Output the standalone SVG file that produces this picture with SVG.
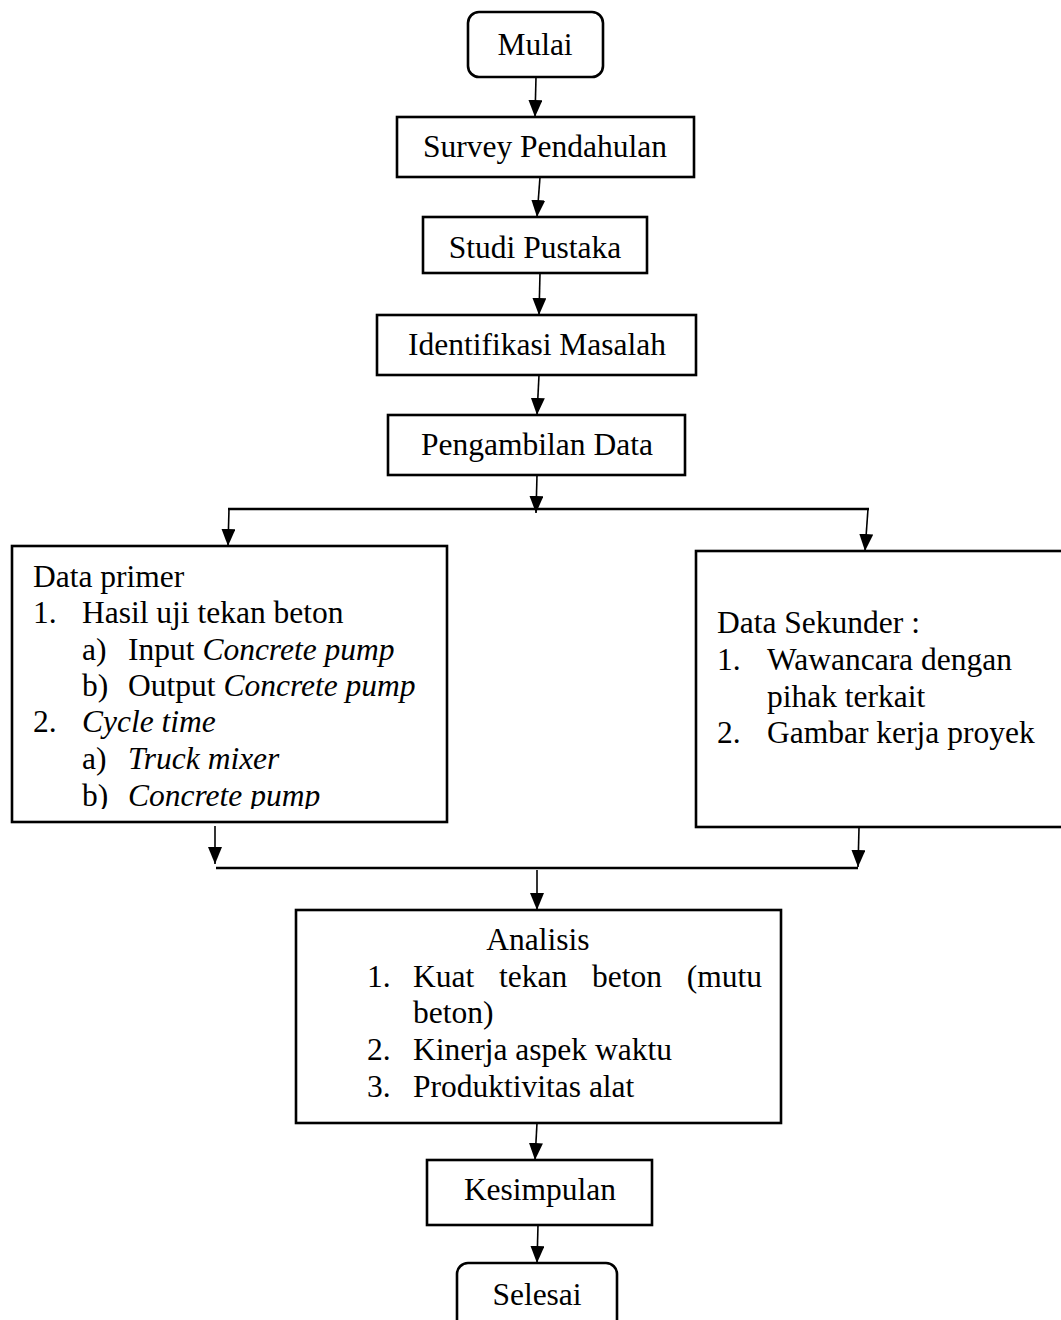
<svg xmlns="http://www.w3.org/2000/svg" width="1061" height="1320" viewBox="0 0 1061 1320">
<style>
.box{fill:#fff;stroke:#000;stroke-width:2.6}
.t{font-family:"Liberation Serif","Times New Roman",serif;font-size:31.5px;fill:#000}
.c{text-anchor:middle}
.i{font-style:italic}
.ln{stroke:#000;stroke-width:1.6;fill:none}
.hl{stroke:#000;stroke-width:2.4;fill:none}
</style>
<defs>
<marker id="ah" viewBox="0 0 17 14" refX="17" refY="7" markerWidth="17" markerHeight="14" markerUnits="userSpaceOnUse" orient="auto">
<path d="M0,0 L17,7 L0,14 z" fill="#000"/>
</marker>
<clipPath id="clipPrimer"><rect x="0" y="540" width="460" height="269"/></clipPath>
</defs>
<rect width="1061" height="1320" fill="#fff"/>

<g id="mulai"><rect class="box" x="468" y="12" width="135" height="65" rx="11"/><text class="t c" x="535" y="55">Mulai</text></g>
<g id="survey"><rect class="box" x="397" y="117" width="297" height="60"/><text class="t c" x="545" y="157">Survey Pendahulan</text></g>
<g id="studi"><rect class="box" x="423" y="217" width="224" height="56"/><text class="t c" x="535" y="258">Studi Pustaka</text></g>
<g id="identifikasi"><rect class="box" x="377" y="315" width="319" height="60"/><text class="t c" x="537" y="355">Identifikasi Masalah</text></g>
<g id="pengambilan"><rect class="box" x="388" y="415" width="297" height="60"/><text class="t c" x="537" y="455">Pengambilan Data</text></g>

<g id="primer"><rect class="box" x="12" y="546" width="435" height="276"/>
<g clip-path="url(#clipPrimer)">
<text class="t" x="33" y="587">Data primer</text>
<text class="t" x="33" y="623">1.</text><text class="t" x="82" y="623">Hasil uji tekan beton</text>
<text class="t" x="82" y="660">a)</text><text class="t" x="128" y="660">Input <tspan class="i">Concrete pump</tspan></text>
<text class="t" x="82" y="696">b)</text><text class="t" x="128" y="696">Output <tspan class="i">Concrete pump</tspan></text>
<text class="t" x="33" y="732">2.</text><text class="t i" x="82" y="732">Cycle time</text>
<text class="t" x="82" y="769">a)</text><text class="t i" x="128" y="769">Truck mixer</text>
<text class="t" x="82" y="806">b)</text><text class="t i" x="128" y="806">Concrete pump</text>
</g></g>

<g id="sekunder"><rect class="box" x="696" y="551" width="370" height="276"/>
<text class="t" x="717" y="633">Data Sekunder :</text>
<text class="t" x="717" y="670">1.</text><text class="t" x="767" y="670">Wawancara dengan</text>
<text class="t" x="767" y="707">pihak terkait</text>
<text class="t" x="717" y="743">2.</text><text class="t" x="767" y="743">Gambar kerja proyek</text>
</g>

<g id="analisis"><rect class="box" x="296" y="910" width="485" height="213"/>
<text class="t c" x="538" y="950">Analisis</text>
<text class="t" x="367" y="987">1.</text>
<text class="t" x="413" y="987">Kuat</text><text class="t" x="499" y="987">tekan</text><text class="t" x="592" y="987">beton</text><text class="t" x="762" y="987" text-anchor="end">(mutu</text>
<text class="t" x="413" y="1023">beton)</text>
<text class="t" x="367" y="1060">2.</text><text class="t" x="413" y="1060">Kinerja aspek waktu</text>
<text class="t" x="367" y="1097">3.</text><text class="t" x="413" y="1097">Produktivitas alat</text>
</g>

<g id="kesimpulan"><rect class="box" x="427" y="1160" width="225" height="65"/><text class="t c" x="540" y="1200">Kesimpulan</text></g>
<g id="selesai"><rect class="box" x="457" y="1263" width="160" height="80" rx="11"/><text class="t c" x="537" y="1305">Selesai</text></g>

<g id="connectors">
<line class="ln" x1="536" y1="77" x2="535" y2="117" marker-end="url(#ah)"/>
<line class="ln" x1="540" y1="177" x2="537" y2="217" marker-end="url(#ah)"/>
<line class="ln" x1="540" y1="273" x2="539" y2="315" marker-end="url(#ah)"/>
<line class="ln" x1="539" y1="375" x2="537" y2="415" marker-end="url(#ah)"/>
<line class="ln" x1="537" y1="475" x2="536" y2="513" marker-end="url(#ah)"/>
<line class="hl" x1="228" y1="509" x2="869" y2="509"/>
<line class="ln" x1="229" y1="509" x2="228" y2="546" marker-end="url(#ah)"/>
<line class="ln" x1="868" y1="509" x2="865" y2="551" marker-end="url(#ah)"/>
<line class="ln" x1="215" y1="826" x2="215" y2="864" marker-end="url(#ah)"/>
<line class="ln" x1="859" y1="828" x2="858" y2="867" marker-end="url(#ah)"/>
<line class="hl" x1="216" y1="868" x2="858" y2="868"/>
<line class="ln" x1="537" y1="870" x2="537" y2="910" marker-end="url(#ah)"/>
<line class="ln" x1="537" y1="1123" x2="535" y2="1160" marker-end="url(#ah)"/>
<line class="ln" x1="538" y1="1225" x2="537" y2="1263" marker-end="url(#ah)"/>
</g>
</svg>
